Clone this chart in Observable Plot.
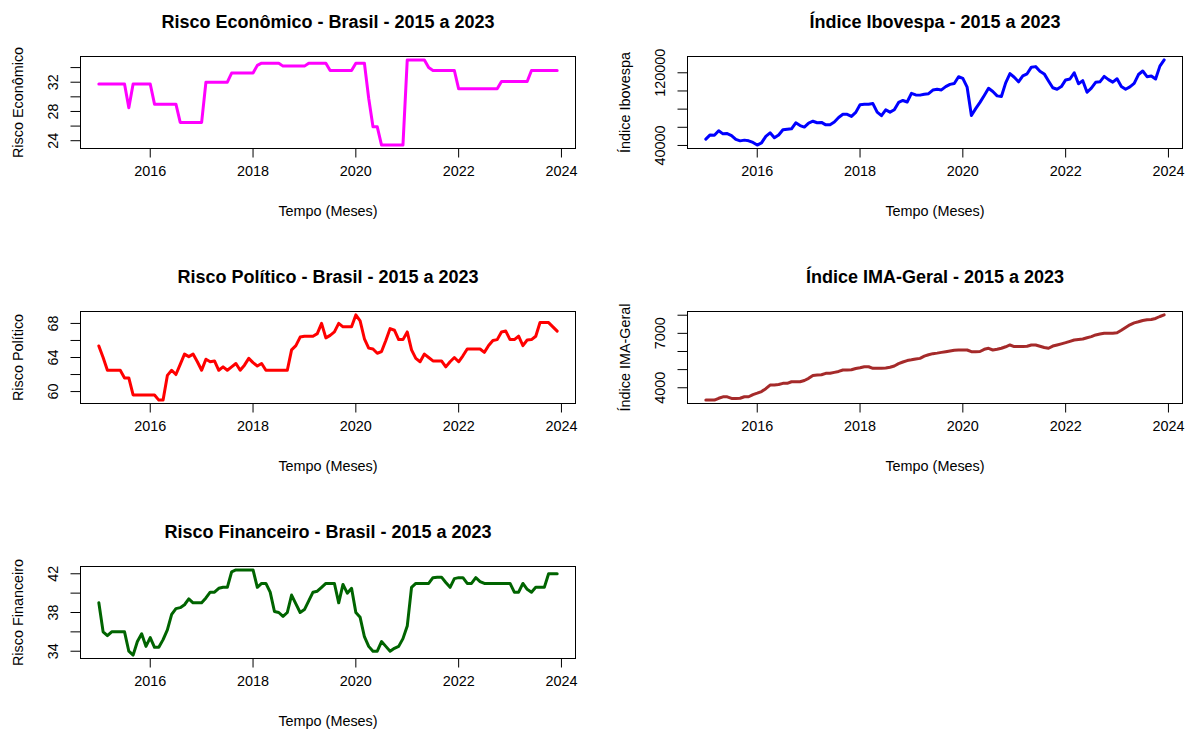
<!DOCTYPE html>
<html><head><meta charset="utf-8">
<script src="https://cdn.jsdelivr.net/npm/d3@7"></script>
<script src="https://cdn.jsdelivr.net/npm/@observablehq/plot@0.6"></script>
<style>
body{margin:0;background:#fff;}
#wrap{position:relative;width:1189px;height:731px;overflow:hidden;background:#fff;font-family:"Liberation Sans",Arial,sans-serif;}
.cell{position:absolute;}
</style></head><body><div id="wrap"></div>
<script>
const inicio = 2015;

const riscoEconomico = [
31.75,31.75,31.75,31.75,31.75,31.75,31.75,28.5,31.75,31.75,31.75,31.75,
31.75,29.0,29.0,29.0,29.0,29.0,29.0,26.5,26.5,26.5,26.5,26.5,
26.5,32.0,32.0,32.0,32.0,32.0,32.0,33.25,33.25,33.25,33.25,33.25,
33.25,34.3,34.6,34.6,34.6,34.6,34.6,34.2,34.2,34.2,34.2,34.2,
34.2,34.6,34.6,34.6,34.6,34.6,33.6,33.6,33.6,33.6,33.6,33.6,
34.6,34.6,34.6,29.8,25.9,25.9,23.4,23.4,23.4,23.4,23.4,23.4,
35.05,35.05,35.05,35.05,35.05,34.0,33.6,33.6,33.6,33.6,33.6,33.6,
31.1,31.1,31.1,31.1,31.1,31.1,31.1,31.1,31.1,31.1,32.1,32.1,
32.1,32.1,32.1,32.1,32.1,33.6,33.6,33.6,33.6,33.6,33.6,33.6];

const ibovespa = [
46908,51583,51150,56229,52760,53081,50865,46626,45059,45869,45120,43350,
40406,42794,50055,53911,48472,51527,57308,57901,58367,64925,61906,60227,
64671,66662,64984,65403,62711,62900,65920,70835,74294,74308,71971,76402,
84913,85353,85365,86115,76753,72762,79220,76677,79342,87423,89504,87887,
97393,95584,95414,96353,97030,100967,101812,101135,104745,107220,108233,115645,
113761,104172,73020,80506,87403,95056,102912,99369,94603,93952,108893,119017,
115068,110035,116634,118894,126216,126802,121801,118781,110979,103501,101915,104822,
112144,113142,119999,107876,111351,98542,103165,109523,110037,116037,112486,109735,
113431,104932,101882,104431,108335,118087,121942,115742,116565,113144,127331,134185];

const riscoPolitico = [
65.35,64.0,62.5,62.5,62.5,62.5,61.6,61.6,59.6,59.6,59.6,59.6,
59.6,59.6,59.0,59.0,61.9,62.5,62.0,63.2,64.4,64.1,64.4,63.5,
62.5,63.8,63.5,63.6,62.5,62.9,62.5,62.9,63.3,62.5,63.1,63.9,
63.4,63.0,63.3,62.5,62.5,62.5,62.5,62.5,62.5,64.9,65.4,66.4,
66.5,66.5,66.5,66.8,68.0,66.3,66.6,67.0,68.0,67.6,67.6,67.6,
69.0,68.3,66.2,65.1,65.0,64.5,64.7,66.0,67.4,67.2,66.1,66.1,
67.0,64.9,63.9,63.5,64.4,64.0,63.6,63.6,63.6,62.9,63.5,64.0,
63.5,64.2,65.0,65.0,65.0,65.0,64.6,65.4,66.0,66.1,67.0,67.1,
66.1,66.1,66.5,65.4,66.05,66.1,66.5,68.1,68.1,68.1,67.6,67.1];

const imaGeral = [
3320,3320,3320,3420,3500,3500,3414,3414,3420,3503,3503,3620,
3700,3790,3950,4150,4150,4180,4243,4243,4330,4330,4330,4400,
4520,4680,4700,4720,4796,4796,4850,4900,4978,4978,4990,5060,
5100,5160,5160,5072,5072,5072,5090,5130,5200,5330,5420,5500,
5540,5590,5620,5740,5820,5880,5910,5950,5989,6030,6070,6083,
6083,6083,5989,5989,6000,6120,6177,6083,6120,6177,6260,6359,
6270,6270,6270,6290,6359,6359,6290,6220,6177,6300,6359,6420,
6486,6560,6635,6660,6690,6760,6818,6912,6960,7000,7006,7006,
7030,7170,7320,7470,7580,7640,7710,7750,7760,7820,7930,8017];

const riscoFinanceiro = [
39.0,36.0,35.6,36.0,36.0,36.0,36.0,34.0,33.6,35.0,35.8,34.5,
35.4,34.4,34.4,35.2,36.2,37.8,38.4,38.5,38.8,39.4,39.0,39.0,
39.0,39.5,40.1,40.1,40.5,40.6,40.6,42.2,42.4,42.4,42.4,42.4,
42.4,40.6,41.0,41.0,40.1,38.1,38.0,37.6,38.0,39.8,38.9,38.0,
38.3,39.2,40.1,40.2,40.6,41.0,41.0,41.0,39.0,40.9,40.0,40.5,
38.0,37.5,35.5,34.5,34.0,34.0,35.0,34.5,34.0,34.3,34.5,35.3,
36.6,40.6,41.0,41.0,41.0,41.0,41.6,41.65,41.65,41.1,40.6,41.5,
41.6,41.6,41.0,41.0,41.6,41.2,41.0,41.0,41.0,41.0,41.0,41.0,
41.0,40.1,40.1,41.0,40.4,40.1,40.6,40.6,40.6,42.0,42.0,42.0];

const xTicks = [2016, 2018, 2020, 2022, 2024];
const rotuloX = "Tempo (Meses)";

const paineis = [
  {titulo: "Risco Econômico - Brasil - 2015 a 2023", rotuloY: "Risco Econômico", valores: riscoEconomico, cor: "#FF00FF",
   yTicks: [24,26,28,30,32,34], yLabels: [24,28,32], left: 0, top: 0},
  {titulo: "Índice Ibovespa - 2015 a 2023", rotuloY: "Índice Ibovespa", valores: ibovespa, cor: "#0000FF",
   yTicks: [40000,60000,80000,100000,120000], yLabels: [40000,120000], left: 607, top: 0},
  {titulo: "Risco Político - Brasil - 2015 a 2023", rotuloY: "Risco Político", valores: riscoPolitico, cor: "#FF0000",
   yTicks: [60,62,64,66,68], yLabels: [60,64,68], left: 0, top: 255},
  {titulo: "Índice IMA-Geral - 2015 a 2023", rotuloY: "Índice IMA-Geral", valores: imaGeral, cor: "#A52A2A",
   yTicks: [4000,5000,6000,7000,8000], yLabels: [4000,7000], left: 607, top: 255},
  {titulo: "Risco Financeiro - Brasil - 2015 a 2023", rotuloY: "Risco Financeiro", valores: riscoFinanceiro, cor: "#006400",
   yTicks: [34,36,38,40,42], yLabels: [34,38,42], left: 0, top: 510}
];

const FONT = '"Liberation Sans", Arial, sans-serif';

function grafico(cfg) {
  const dados = cfg.valores.map((v, i) => ({t: inicio + i / 12, v}));
  const ext = d3.extent(cfg.valores);
  const padY = (ext[1] - ext[0]) * 0.04;
  const t0 = inicio, t1 = inicio + (cfg.valores.length - 1) / 12;
  const padX = (t1 - t0) * 0.04;
  return Plot.plot({
    width: 582, height: 221,
    marginTop: 56, marginBottom: 73, marginLeft: 80, marginRight: 7,
    style: {fontFamily: FONT, fontSize: "14.4px", color: "#000", background: "transparent", overflow: "visible"},
    x: {domain: [t0 - padX, t1 + padX]},
    y: {domain: [ext[0] - padY, ext[1] + padY]},
    marks: [
      Plot.line(dados, {x: "t", y: "v", stroke: cfg.cor, strokeWidth: 3}),
      Plot.frame({stroke: "#000", strokeWidth: 1}),
      Plot.axisX({ticks: xTicks, tickSize: 9.5, tickPadding: 8, tickFormat: d => String(d), label: null, fontSize: 14.4, stroke: "#000"}),
      Plot.axisY({ticks: cfg.yTicks, tickSize: 9.5, tickFormat: () => "", label: null, stroke: "#000"}),
      Plot.text(cfg.yLabels, {y: d => d, text: d => String(d), frameAnchor: "left", textAnchor: "middle", dx: -27, rotate: -90, fontSize: 14.4, fill: "#000"}),
      Plot.text([cfg.titulo], {frameAnchor: "top", textAnchor: "middle", dy: -41, fontWeight: "bold", fontSize: 18, fill: "#000"}),
      Plot.text([rotuloX], {frameAnchor: "bottom", textAnchor: "middle", dy: 67, fontSize: 14.4, fill: "#000"}),
      Plot.text([cfg.rotuloY], {frameAnchor: "left", textAnchor: "middle", dx: -62, rotate: -90, fontSize: 14.4, fill: "#000"})
    ]
  });
}

const wrap = document.getElementById("wrap");
for (const p of paineis) {
  const cell = document.createElement("div");
  cell.className = "cell";
  cell.style.left = p.left + "px";
  cell.style.top = p.top + "px";
  cell.appendChild(grafico(p));
  wrap.appendChild(cell);
}
</script></body></html>
